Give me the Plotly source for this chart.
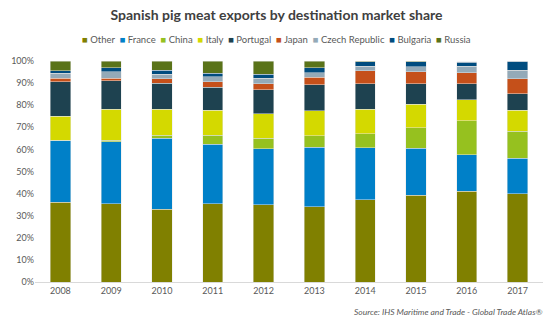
import plotly.graph_objects as go

years = ["2008", "2009", "2010", "2011", "2012", "2013", "2014", "2015", "2016", "2017"]

other    = [36.1, 35.4, 33.0, 35.4, 35.0, 34.1, 37.2, 39.2, 41.0, 40.0]
france   = [27.8, 28.1, 32.0, 26.9, 25.3, 26.8, 23.6, 21.3, 16.5, 16.1]
china    = [0.3, 0.7, 1.5, 4.2, 4.7, 5.3, 6.2, 9.3, 15.5, 12.2]
italy    = [10.9, 13.9, 11.6, 11.3, 11.2, 11.2, 11.1, 10.6, 9.5, 9.5]
portugal = [15.4, 13.0, 11.9, 10.4, 10.8, 11.9, 11.5, 9.2, 7.2, 7.4]
japan    = [1.6, 1.1, 1.9, 2.4, 2.6, 3.3, 6.0, 5.6, 5.0, 6.7]
czech    = [2.3, 3.0, 2.1, 2.2, 2.6, 2.1, 2.1, 2.2, 3.0, 4.0]
bulgaria = [1.1, 1.8, 1.9, 1.6, 1.8, 2.3, 2.0, 2.3, 1.7, 4.1]
russia   = [4.5, 3.0, 4.1, 5.6, 6.0, 3.0, 0.3, 0.3, 0.3, 0.0]

series_names = ["Other", "France", "China", "Italy", "Portugal", "Japan",
                "Czech Republic", "Bulgaria", "Russia"]
series_vals = [other, france, china, italy, portugal, japan, czech, bulgaria, russia]
colors = ["#808000", "#0080C8", "#96C11F", "#D4D900", "#1E4250", "#C5501A",
          "#94AAB8", "#004C7F", "#5A7319"]

fig = go.Figure()
for name, vals, col in zip(series_names, series_vals, colors):
    fig.add_trace(go.Bar(
        x=years, y=vals, name=name,
        marker=dict(color=col, line=dict(color="rgba(230,230,230,0.8)", width=0.6)),
        showlegend=False,
    ))

font_family = "Lato, 'Open Sans', sans-serif"

legend_text = "  ".join(
    f"<span style='color:{c}'>■</span> {n}" for n, c in zip(series_names, colors)
)

fig.update_layout(
    barmode="stack",
    bargap=0.6,
    width=553, height=324,
    margin=dict(l=35, r=10, t=61, b=42),
    paper_bgcolor="white",
    plot_bgcolor="white",
    font=dict(family=font_family, size=9, color="#595959"),
    title=dict(
        text="<b>Spanish pig meat exports by destination market share</b>",
        x=0.5, xanchor="center", xref="container",
        y=1 - 15 / 324, yanchor="middle", yref="container",
        font=dict(size=14, color="#404040", family=font_family),
    ),
    xaxis=dict(
        showgrid=False, showline=True, linecolor="#D9D9D9", linewidth=1,
        ticks="", tickfont=dict(size=9, color="#595959"),
    ),
    yaxis=dict(
        range=[0, 100], dtick=10, ticksuffix="%", showgrid=False,
        zeroline=False, showline=False, tickfont=dict(size=9, color="#595959"),
    ),
    annotations=[
        dict(text=legend_text, x=(276 - 35) / 508, xref="paper", xanchor="center",
             y=1 + 21 / 221, yref="paper", yanchor="middle",
             showarrow=False, font=dict(size=9.5, color="#595959", family=font_family)),
        dict(text="<i>Source: IHS Maritime and Trade - Global Trade Atlas®</i>",
             x=1.004, xref="paper", xanchor="right",
             y=-30 / 221, yref="paper", yanchor="middle",
             showarrow=False, font=dict(size=8.5, color="#595959", family=font_family)),
    ],
)

fig.write_html("out.html")
